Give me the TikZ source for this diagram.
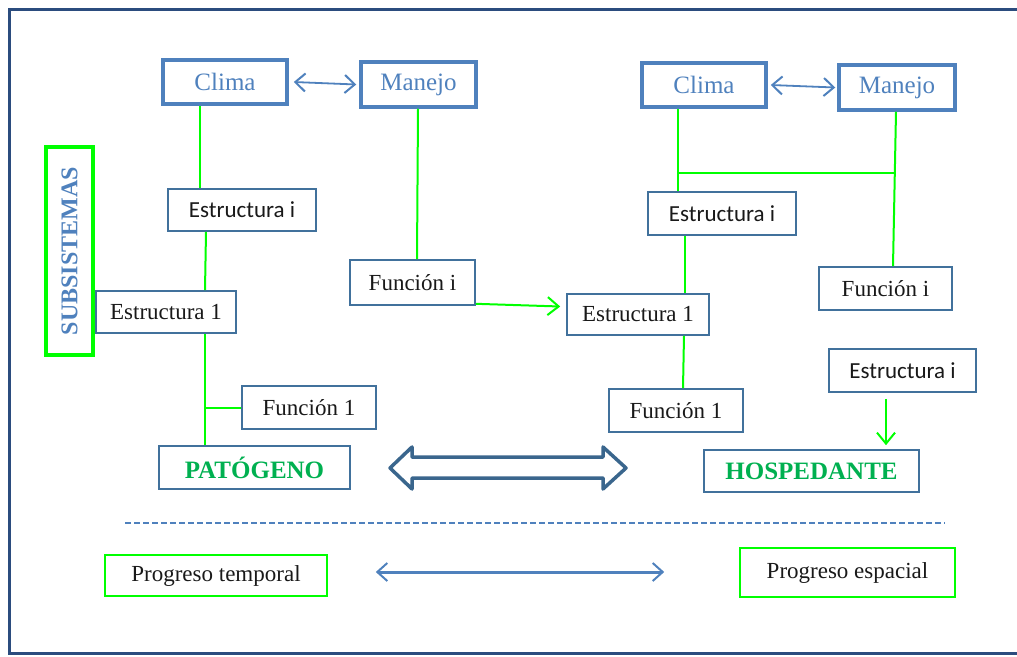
\documentclass[tikz,border=0pt]{standalone}
\usepackage{fontspec}
\setmainfont{Liberation Serif}
\newfontfamily\calibri{Carlito}
\usepackage{tikz}
\usetikzlibrary{arrows.meta}
\definecolor{azulclaro}{HTML}{4F81BD}
\definecolor{azulborde}{HTML}{41719C}
\definecolor{azulmarco}{HTML}{2B4C7E}
\definecolor{verdelinea}{HTML}{00FF00}
\definecolor{verdetexto}{HTML}{00B050}
\tikzstyle{caja}=[draw=azulborde, line width=1.6pt, inner sep=0pt, font=\fontsize{23}{27}\selectfont, text=black!90]
\tikzstyle{cajasans}=[caja, font=\calibri\fontsize{23}{27}\selectfont]
\tikzstyle{cajaclima}=[draw=azulclaro, line width=3.5pt, inner sep=0pt, font=\fontsize{25}{29}\selectfont, text=azulclaro]
\tikzstyle{cajafinal}=[caja, font=\bfseries\fontsize{25}{29}\selectfont, text=verdetexto]
\tikzstyle{cajaverde}=[draw=verdelinea, line width=1.6pt, inner sep=0pt, font=\fontsize{23}{27}\selectfont, text=black!90]
\tikzstyle{arista}=[verdelinea, line width=2pt]
\tikzstyle{flechaverde}=[arista, -{Straight Barb[length=11pt, width=18pt, line width=2pt]}]
\tikzstyle{flechaazul}=[azulclaro, line width=1.8pt, {Straight Barb[length=10pt, width=18pt, line width=2pt]}-{Straight Barb[length=10pt, width=18pt, line width=2pt]}]

\begin{document}
\begin{tikzpicture}[x=1pt, y=-1pt]
            \useasboundingbox (0,0) rectangle (1017,656);
            % Marco
            \draw[azulmarco, line width=3pt] (9,9) rectangle (1030,653);
            % Cajas superiores
            \node[cajaclima, minimum width=124pt, minimum height=44pt] (climaP) at (225,82) {Clima};
            \node[cajaclima, minimum width=115pt, minimum height=45pt] (manejoP) at (418.5,84.5) {Manejo};
            \node[cajaclima, minimum width=124pt, minimum height=44pt] (climaH) at (704,85) {Clima};
            \node[cajaclima, minimum width=116pt, minimum height=45pt] (manejoH) at (897,87.5) {Manejo};
            \node[draw=verdelinea, line width=4pt, minimum width=47pt, minimum height=208pt, inner sep=0pt] (subsis) at (69.5,251) {};
            \node[rotate=90, text=azulclaro, font=\bfseries\fontsize{24}{28}\selectfont] at (subsis.center) {SUBSISTEMAS};
            % Lado del patógeno
            \node[cajasans, minimum width=148pt, minimum height=42pt] (estiP) at (242,210) {Estructura i};
            \node[caja, minimum width=140pt, minimum height=42pt] (est1P) at (166,312) {Estructura 1};
            \node[caja, minimum width=125pt, minimum height=45pt] (funiP) at (412.5,282.5) {Función i};
            \node[caja, minimum width=134pt, minimum height=43pt] (fun1P) at (309,407.5) {Función 1};
            \node[cajafinal, minimum width=191pt, minimum height=43pt] (patogeno) at (254.5,467.5) {PATÓGENO};
            % Lado del hospedante
            \node[cajasans, minimum width=148pt, minimum height=43pt] (estiH) at (722,213.5) {Estructura i};
            \node[caja, minimum width=142pt, minimum height=41pt] (est1H) at (638,314.5) {Estructura 1};
            \node[caja, minimum width=133pt, minimum height=43pt] (funiH) at (885.5,288.5) {Función i};
            \node[cajasans, minimum width=147pt, minimum height=43pt] (esti2H) at (902.5,370.5) {Estructura i};
            \node[caja, minimum width=134pt, minimum height=43pt] (fun1H) at (676,410.5) {Función 1};
            \node[cajafinal, minimum width=215pt, minimum height=42pt] (hospedante) at (811.5,471) {HOSPEDANTE};
            % Progreso
            \node[cajaverde, minimum width=222pt, minimum height=41pt] (temporal) at (216,575.5) {Progreso temporal};
            \node[cajaverde, minimum width=215pt, minimum height=49pt] (espacial) at (847.5,572.5) {Progreso espacial};
            \coordinate (guionA) at (125,523);
            \coordinate (guionB) at (945,523);
            \coordinate (uniA) at (678,173);
            \coordinate (uniB) at (895,173);
            % Aristas
            \draw[flechaazul] ([xshift=5pt]climaP.east) -- ([xshift=-3pt]manejoP.west);
            \draw[flechaazul] ([xshift=3pt]climaH.east) -- ([xshift=-2pt]manejoH.west);
            \draw[arista] (climaP.south -| 200,0) -- (estiP.north -| 200,0);
            \draw[arista] (estiP.south -| 206,0) -- (est1P.north -| 205,0);
            \draw[arista] (est1P.south -| 205,0) -- (patogeno.north -| 205,0);
            \draw[arista] (fun1P.west) -- (fun1P.west -| 205,0);
            \draw[arista] (manejoP.south -| 418,0) -- (funiP.north -| 417,0);
            \draw[flechaverde] ([yshift=2pt]funiP.south east) -- ([xshift=-6pt,yshift=8pt]est1H.west);
            \draw[arista] (climaH.south -| 678,0) -- (estiH.north -| 678,0);
            \draw[arista] (uniA) -- (uniB);
            \draw[arista] (manejoH.south -| 896,0) -- (funiH.north -| 893,0);
            \draw[arista] (estiH.south -| 685,0) -- (est1H.north -| 685,0);
            \draw[arista] (est1H.south -| 684,0) -- (fun1H.north -| 683,0);
            \draw[flechaverde] ([yshift=-6pt]esti2H.south -| 886,0) -- ([yshift=4pt]hospedante.north -| 886,0);
            % Flecha doble grande
            \draw[azulborde!90!black, line width=3.5pt, line join=round]
                (390,468) -- (412,447) -- (412,457) -- (603,457) -- (603,447) -- (626,468)
                -- (603,489) -- (603,478) -- (412,478) -- (412,489) -- cycle;
            % Parte inferior
            \draw[azulclaro, line width=1.8pt, dash pattern=on 6pt off 3pt] (guionA) -- (guionB);
            \draw[flechaazul, line width=3pt] ([xshift=48pt]temporal.east |- 0,572) -- ([xshift=-75pt]espacial.west |- 0,572);
        \end{tikzpicture}
\end{document}
